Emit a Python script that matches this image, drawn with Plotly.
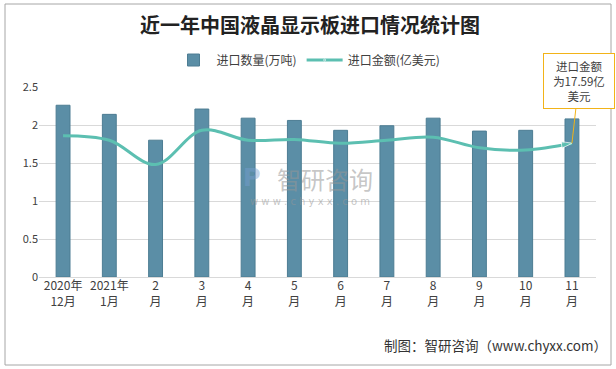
import plotly.graph_objects as go

categories = ["2020年<br>12月", "2021年<br>1月", "2<br>月", "3<br>月", "4<br>月", "5<br>月",
              "6<br>月", "7<br>月", "8<br>月", "9<br>月", "10<br>月", "11<br>月"]
qty = [2.26, 2.14, 1.80, 2.21, 2.09, 2.06, 1.93, 1.99, 2.09, 1.92, 1.93, 2.08]
amount = [1.86, 1.80, 1.48, 1.93, 1.80, 1.81, 1.76, 1.80, 1.84, 1.70, 1.67, 1.759]
yticks = [0, 0.5, 1, 1.5, 2, 2.5]
ytick_labels = ["0", "0.5", "1", "1.5", "2", "2.5"]

n = len(categories)
symbols = ["circle"] + ["circle"] * (n - 2) + ["arrow"]
sizes = [11] + [0] * (n - 2) + [11]

fig = go.Figure()
fig.add_trace(go.Bar(
    x=categories, y=qty, name="进口数量(万吨)",
    width=0.3,
    marker=dict(color="#5b8ea6", line=dict(color="#4d7d93", width=1)),
))
fig.add_trace(go.Scatter(
    x=categories, y=amount, name="进口金额(亿美元)",
    mode="lines+markers",
    line=dict(color="#5cbfb1", width=3, shape="spline", smoothing=1.0),
    marker=dict(symbol=symbols, size=sizes, color="#5cbfb1", angleref="previous"),
))

font_cn = "Noto Sans CJK SC"

fig.update_layout(
    width=616, height=369,
    margin=dict(l=39, r=20, t=87, b=92),
    paper_bgcolor="white", plot_bgcolor="white",
    font=dict(family=font_cn, size=12, color="#404040"),
    title=dict(text="<b>近一年中国液晶显示板进口情况统计图</b>", x=(310 - 39) / 557, xref="paper",
               xanchor="center", y=1 - 26 / 369, yanchor="middle",
               font=dict(family=font_cn, size=20, color="#222222")),
    legend=dict(orientation="h", x=(308 - 39) / 557, xanchor="center", y=1.142, yanchor="middle",
                font=dict(size=12, color="#404040"), bgcolor="rgba(0,0,0,0)",
                itemwidth=36, tracegroupgap=0),
    showlegend=True,
)
fig.update_xaxes(type="category", range=[-0.52, n - 0.48], showgrid=False,
                 showline=False, ticks="", tickfont=dict(size=12, color="#404040"))
fig.update_yaxes(range=[0, 2.5], tickvals=yticks, ticktext=ytick_labels,
                 showgrid=True, gridcolor="#d9d9d9", gridwidth=1,
                 zeroline=True, zerolinecolor="#d9d9d9", zerolinewidth=1,
                 showline=False, ticks="", tickfont=dict(size=11, color="#404040"))

# outer border
fig.add_shape(type="rect", xref="paper", yref="paper",
              x0=(5 - 39) / 557, x1=(611 - 39) / 557,
              y0=(277 - 365) / 190, y1=(277 - 4) / 190,
              line=dict(color="#a6a6a6", width=1), fillcolor="rgba(0,0,0,0)", layer="below")

# watermark
fig.add_annotation(text="智研咨询", xref="paper", yref="paper",
                   x=(325 - 39) / 557, y=(277 - 178) / 190, showarrow=False,
                   font=dict(size=24, color="rgba(150,150,150,0.55)", family=font_cn))
fig.add_annotation(text="w w w . c h y x x . c o m", xref="paper", yref="paper",
                   x=(310 - 39) / 557, y=(277 - 201) / 190, showarrow=False,
                   font=dict(size=10, color="rgba(150,150,150,0.55)", family="DejaVu Sans"))
fig.add_annotation(text="<b>P</b>", xref="paper", yref="paper",
                   x=(252 - 39) / 557, y=(277 - 178) / 190, showarrow=False,
                   font=dict(size=24, color="rgba(120,160,210,0.45)", family="DejaVu Sans"))

# callout
fig.add_annotation(text="进口金额<br>为17.59亿<br>美元", x=categories[-1], y=amount[-1],
                   xref="x", yref="y", showarrow=True, arrowhead=0, arrowwidth=1,
                   arrowcolor="#f2b318", ax=7, ay=-62,
                   bordercolor="#f2b318", borderwidth=1, borderpad=4, bgcolor="white",
                   width=62, align="center",
                   font=dict(size=11.5, color="#404040", family=font_cn))

# source
fig.add_annotation(text="制图：智研咨询（www.chyxx.com）", xref="paper", yref="paper",
                   x=(609 - 39) / 557, y=(277 - 345) / 190, xanchor="right", yanchor="middle",
                   showarrow=False, font=dict(size=13.5, color="#333333", family=font_cn))

fig.write_html("out.html", config={"displayModeBar": False},
               post_script="document.body.style.margin='0px';document.body.style.overflow='hidden';")
